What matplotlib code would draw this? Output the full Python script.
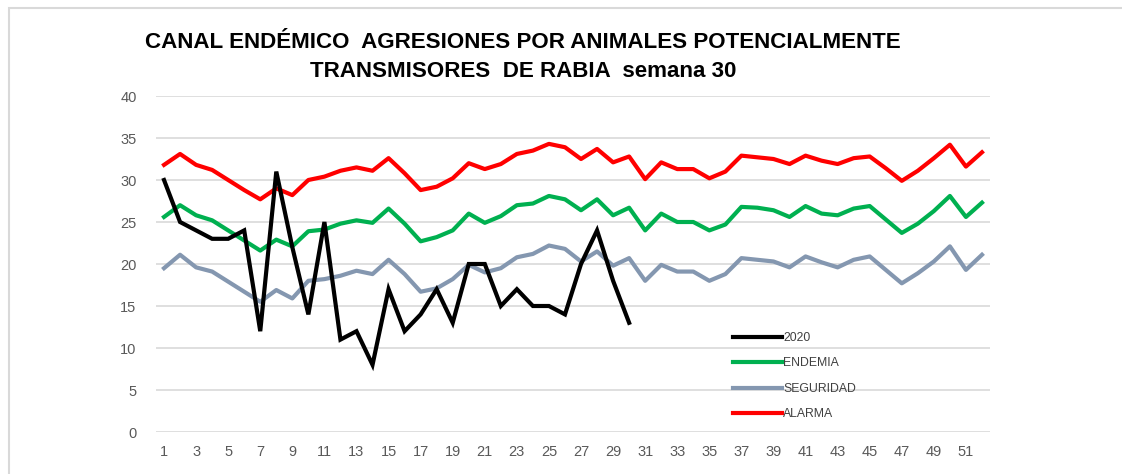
import matplotlib
matplotlib.use("Agg")
import matplotlib.pyplot as plt
from matplotlib.patches import Rectangle

weeks = list(range(1, 53))
casos_2020 = [30, 25, 24, 23, 23, 24, 12, 31, 22, 14, 25, 11, 12, 8, 17, 12, 14, 17, 13, 20,
              20, 15, 17, 15, 15, 14, 20, 24, 18, 13]
endemia = [25.6, 27.0, 25.8, 25.2, 24.0, 22.8, 21.6, 22.9, 22.1, 23.9, 24.1, 24.8, 25.2, 24.9,
           26.6, 24.8, 22.7, 23.2, 24.0, 26.0, 24.9, 25.7, 27.0, 27.2, 28.1, 27.7, 26.4, 27.7,
           25.8, 26.7, 24.0, 26.0, 25.0, 25.0, 24.0, 24.7, 26.8, 26.7, 26.4, 25.6, 26.9, 26.0,
           25.8, 26.6, 26.9, 25.3, 23.7, 24.8, 26.3, 28.1, 25.6, 27.3]
seguridad = [19.5, 21.1, 19.6, 19.1, 17.9, 16.7, 15.5, 16.9, 15.9, 18.0, 18.2, 18.6, 19.2, 18.8,
             20.5, 18.8, 16.7, 17.1, 18.2, 19.9, 19.0, 19.5, 20.8, 21.2, 22.2, 21.8, 20.3, 21.5,
             19.8, 20.7, 18.0, 19.9, 19.1, 19.1, 18.0, 18.8, 20.7, 20.5, 20.3, 19.6, 20.9, 20.2,
             19.6, 20.5, 20.9, 19.3, 17.7, 18.9, 20.3, 22.1, 19.3, 21.1]
alarma = [31.8, 33.1, 31.8, 31.2, 30.0, 28.8, 27.7, 29.0, 28.2, 30.0, 30.4, 31.1, 31.5, 31.1,
          32.6, 30.8, 28.8, 29.2, 30.2, 32.0, 31.3, 31.9, 33.1, 33.5, 34.3, 33.9, 32.5, 33.7,
          32.1, 32.8, 30.1, 32.1, 31.3, 31.3, 30.2, 31.0, 32.9, 32.7, 32.5, 31.9, 32.9, 32.3,
          31.9, 32.6, 32.8, 31.4, 29.9, 31.1, 32.6, 34.2, 31.6, 33.3]
series_names = ["2020", "ENDEMIA", "SEGURIDAD", "ALARMA"]
x_tick_labels = [str(w) for w in range(1, 53, 2)]
y_ticks = [0, 5, 10, 15, 20, 25, 30, 35, 40]
title_text = ("CANAL ENDÉMICO  AGRESIONES POR ANIMALES POTENCIALMENTE\n"
              "TRANSMISORES  DE RABIA  semana 30")

fig = plt.figure(figsize=(11.22, 4.74), dpi=100)
W, H = 1122, 474
ax = fig.add_axes([156 / W, 1 - 432 / H, (990 - 156) / W, (432 - 96) / H])

lw = 3.0
ax.plot(weeks[:len(casos_2020)], casos_2020, color="#000000", lw=lw, label=series_names[0],
        solid_joinstyle="miter", zorder=5)
ax.plot(weeks, endemia, color="#00B050", lw=lw, label=series_names[1], zorder=4)
ax.plot(weeks, seguridad, color="#8497B0", lw=lw, label=series_names[2], zorder=4)
ax.plot(weeks, alarma, color="#FF0000", lw=lw, label=series_names[3], zorder=4)

ax.set_xlim(0.5, 52.5)
ax.set_ylim(0, 40)
ax.set_yticks(y_ticks)
ax.set_xticks(list(range(1, 53, 2)))
ax.set_xticklabels(x_tick_labels)
ax.grid(axis="y", color="#D9D9D9", lw=1.2)
ax.set_axisbelow(True)
for s in ax.spines.values():
    s.set_visible(False)
ax.tick_params(length=0, labelsize=10.5, labelcolor="#595959", pad=14)
ax.tick_params(axis="x", pad=9)
for lab in ax.get_xticklabels() + ax.get_yticklabels():
    lab.set_family(["Liberation Sans", "DejaVu Sans"])

leg = ax.legend(loc="upper left", bbox_to_anchor=(733 / W, 1 - 332 / H),
                bbox_transform=fig.transFigure, frameon=False,
                prop={"family": ["Liberation Sans", "DejaVu Sans"], "size": 8.8},
                handlelength=4.0, handletextpad=0.1, labelspacing=1.1, borderpad=0,
                borderaxespad=0)
for t in leg.get_texts():
    t.set_color("#404040")

fig.text(523 / W, 1 - 57 / H, title_text, ha="center", va="center", fontsize=16.1,
         fontweight="bold", linespacing=1.5,
         family=["Liberation Sans", "DejaVu Sans"], color="#000000")

fig.patches.append(Rectangle((9 / W, -0.2), 2.0, 1 - 8 / H + 0.2, transform=fig.transFigure,
                             fill=False, edgecolor="#D9D9D9", lw=1.5))

fig.savefig("out.png", dpi=100, facecolor="white")
